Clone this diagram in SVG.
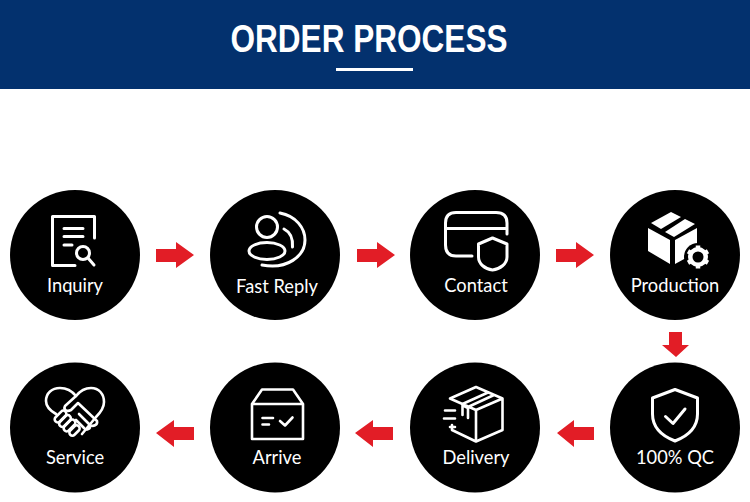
<svg xmlns="http://www.w3.org/2000/svg" width="750" height="502" viewBox="0 0 750 502">
<style>
.disc{fill:#000}
.ic{fill:none;stroke:#fff;stroke-width:3;stroke-linecap:round;stroke-linejoin:round}
.thin{stroke-width:2.600}
.sq{stroke-linecap:square;stroke-linejoin:miter}
.sol{fill:#fff;stroke:none}
.lbl{font-family:"Lato","Liberation Sans",sans-serif;font-size:18.300px;fill:#fff;text-anchor:middle}
.arr{fill:#e21d26}
.ttl{font-family:"Liberation Sans",Arial,sans-serif;font-weight:700;font-size:38px;fill:#fff;text-anchor:middle}
</style>
<rect width="750" height="502" fill="#fff"/>
<g id="header">
<rect width="750" height="89" fill="#03316e"/>
<text class="ttl" x="369" y="51.500" textLength="277" lengthAdjust="spacingAndGlyphs">ORDER PROCESS</text>
<rect x="336" y="68" width="77" height="3" fill="#fff"/>
</g>
<g id="connectors">
<polygon class="arr" points="156,249 176,249 176,242 194,255 176,268 176,262 156,262"/>
<polygon class="arr" points="357,249 377,249 377,242 395,255 377,268 377,262 357,262"/>
<polygon class="arr" points="556,249 576,249 576,242 594,255 576,268 576,262 556,262"/>
<polygon class="arr" points="669,332 682,332 682,345 689,345 676,357 662,345 669,345"/>
<polygon class="arr" points="594,427 574,427 574,420 557,433 574,447 574,440 594,440"/>
<polygon class="arr" points="393,427 373,427 373,420 355,433 373,447 373,440 393,440"/>
<polygon class="arr" points="194,427 174,427 174,420 156,433 174,447 174,440 194,440"/>
</g>
<g id="inquiry">
<circle class="disc" cx="75" cy="255" r="65"/>
<path class="ic" d="M94.500 238V216.500H52.500V265.500H75"/>
<path class="ic" d="M64 228.500H83M64 236.500H83M64 245H72"/>
<circle class="ic" cx="83" cy="253" r="6.500"/>
<path class="ic" d="M88 258L94 265" stroke-width="3.500"/>
<text class="lbl" x="75" y="292">Inquiry</text>
</g>
<g id="fast-reply">
<circle class="disc" cx="275" cy="255" r="65"/>
<circle class="ic" cx="267" cy="227" r="10.500"/>
<ellipse class="ic" cx="267" cy="251" rx="18" ry="8.500"/>
<path class="ic" d="M280 213C296 216 305 228 305 240C305 256 287 270 262 265"/>
<path class="ic" d="M284 229C290 232 293 239 292.500 247"/>
<text class="lbl" x="277" y="293">Fast Reply</text>
</g>
<g id="contact">
<circle class="disc" cx="475" cy="255" r="65"/>
<path class="ic" d="M472 256H456Q445.500 256 445.500 245V223Q445.500 212.500 456 212.500H496Q507 212.500 507 223V234M445.500 228.500H507"/>
<path class="ic" d="M492.500 238L507 244V257C507 264 500 269 492.500 270C485 269 478.500 264 478.500 257V244Z"/>
<text class="lbl" x="476" y="292">Contact</text>
</g>
<g id="production">
<circle class="disc" cx="675" cy="255" r="65"/>
<polygon class="sol" points="648,228 670,240 670,264 648,251"/>
<polygon class="sol" points="675,240 697,228 697,252 675,264"/>
<polygon class="sol" points="651,223 671,212 681,217 661,229"/>
<polygon class="sol" points="665,232 685,219 695,224 674,237"/>
<circle cx="698" cy="257" r="14" fill="#000"/>
<circle cx="698" cy="257" r="7.500" fill="none" stroke="#fff" stroke-width="5"/>
<path d="M698 245.500V268.500M688 251.200L708 262.800M688 262.800L708 251.200" stroke="#fff" stroke-width="4.500" fill="none"/>
<circle cx="698" cy="257" r="5.500" fill="#000"/>
<text class="lbl" x="675" y="292">Production</text>
</g>
<g id="qc">
<circle class="disc" cx="675" cy="427.500" r="65"/>
<path class="ic" d="M675 389.500L697.500 398V414C697.500 427 688 436 675 441C662 436 652.500 427 652.500 414V398Z"/>
<path class="ic" d="M665.500 416.500L673 423.500L685 409" stroke-width="3.500"/>
<text class="lbl" x="675" y="464">100% QC</text>
</g>
<g id="delivery">
<circle class="disc" cx="475" cy="427.500" r="65"/>
<path class="ic thin" d="M452 425V430L476 441.500L502.500 430V398.500L476 387L450 398.500L476 410L502.500 398.500M476 410V441.500M488 392.500L462.500 404V415M464 406L468 408M494 395L468 407V418"/>
<path class="ic thin" d="M445 410.500H455M444 418.500H455M450 427H455"/>
<text class="lbl" x="476" y="464">Delivery</text>
</g>
<g id="arrive">
<circle class="disc" cx="275" cy="427.500" r="65"/>
<path class="ic thin" d="M252 404H303V439H252ZM252 404L262 389.500H293L303 404"/>
<path class="ic thin" d="M262.500 418H273M262.500 424.500H269M280 421L285 425.500L292.500 417.500"/>
<text class="lbl" x="277" y="464">Arrive</text>
</g>
<g id="service">
<circle class="disc" cx="75" cy="427.500" r="65"/>
<path class="ic thin" d="M56 414C49 410 46 406 46 401C46 393 52 388 60 388C66 388 72 391 76 396C80 391 85 388 91 388C99 388 104 394 104 402C104 408 100 413 96 417L82 434"/>
<path class="ic thin" d="M76 396L65 406C63 410 67 412 71 410L78 403L97 421C98 425 93 427 90 425L79 414M90 425C91 429 86 431 84 428L76 420"/>
<g class="ic thin">
<rect x="-7" y="-3" width="14" height="6" rx="3" transform="translate(60.500 416.500) rotate(-45)"/>
<rect x="-7" y="-3" width="14" height="6" rx="3" transform="translate(65 421) rotate(-45)"/>
<rect x="-7" y="-3" width="14" height="6" rx="3" transform="translate(69.500 425.500) rotate(-45)"/>
<rect x="-6" y="-3" width="12" height="6" rx="3" transform="translate(74.500 430.500) rotate(-45)"/>
</g>
<text class="lbl" x="75" y="464">Service</text>
</g>
</svg>
